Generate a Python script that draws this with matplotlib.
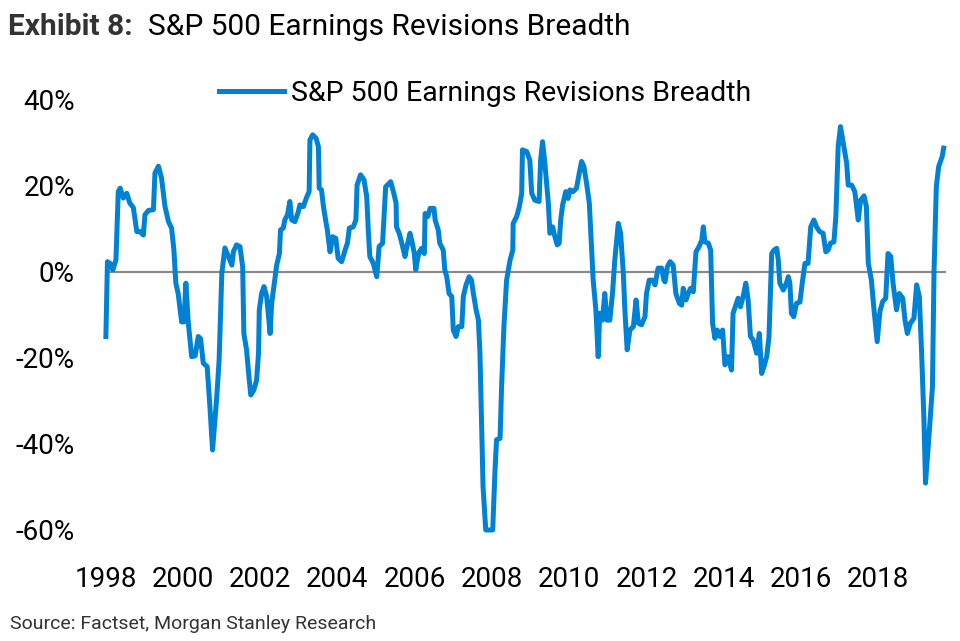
import matplotlib
matplotlib.use("Agg")
import matplotlib.pyplot as plt
from matplotlib.ticker import FuncFormatter

# ======================================
# DATA
# ======================================

years = [
    1998.01, 1998.05, 1998.12, 1998.19, 1998.27, 1998.33, 1998.38, 1998.46, 1998.55, 1998.63,
    1998.72, 1998.81, 1998.89, 1998.98, 1999.02, 1999.11, 1999.24, 1999.28, 1999.37, 1999.45,
    1999.54, 1999.63, 1999.71, 1999.77, 1999.82, 1999.88, 1999.97, 2000.03, 2000.08, 2000.14,
    2000.23, 2000.32, 2000.40, 2000.46, 2000.53, 2000.63, 2000.70, 2000.77, 2000.88, 2000.94,
    2001.01, 2001.09, 2001.18, 2001.27, 2001.31, 2001.39, 2001.48, 2001.55, 2001.58, 2001.65,
    2001.72, 2001.76, 2001.84, 2001.91, 2001.96, 2001.98, 2002.04, 2002.10, 2002.17, 2002.26,
    2002.30, 2002.39, 2002.43, 2002.50, 2002.53, 2002.60, 2002.64, 2002.71, 2002.77, 2002.82,
    2002.90, 2002.99, 2003.03, 2003.12, 2003.21, 2003.27, 2003.29, 2003.36, 2003.45, 2003.51,
    2003.53, 2003.59, 2003.64, 2003.71, 2003.74, 2003.81, 2003.88, 2003.96, 2004.02, 2004.11,
    2004.20, 2004.26, 2004.31, 2004.41, 2004.48, 2004.51, 2004.60, 2004.69, 2004.76, 2004.80,
    2004.84, 2004.93, 2005.02, 2005.08, 2005.17, 2005.25, 2005.38, 2005.46, 2005.52, 2005.53,
    2005.60, 2005.66, 2005.75, 2005.79, 2005.88, 2005.94, 2005.99, 2006.03, 2006.07, 2006.12,
    2006.18, 2006.25, 2006.27, 2006.34, 2006.40, 2006.50, 2006.53, 2006.61, 2006.65, 2006.74,
    2006.78, 2006.83, 2006.89, 2006.96, 2007.00, 2007.07, 2007.13, 2007.22, 2007.26, 2007.33,
    2007.41, 2007.47, 2007.52, 2007.59, 2007.65, 2007.69, 2007.73, 2007.77, 2007.84, 2007.92,
    2008.02, 2008.08, 2008.12, 2008.21, 2008.25, 2008.31, 2008.38, 2008.47, 2008.54, 2008.55,
    2008.64, 2008.71, 2008.77, 2008.79, 2008.90, 2008.98, 2009.03, 2009.11, 2009.22, 2009.26,
    2009.31, 2009.37, 2009.46, 2009.50, 2009.57, 2009.63, 2009.69, 2009.74, 2009.78, 2009.83,
    2009.91, 2009.97, 2010.02, 2010.10, 2010.19, 2010.26, 2010.32, 2010.38, 2010.45, 2010.52,
    2010.58, 2010.62, 2010.69, 2010.75, 2010.79, 2010.86, 2010.92, 2010.98, 2011.05, 2011.12,
    2011.18, 2011.27, 2011.33, 2011.40, 2011.44, 2011.50, 2011.57, 2011.66, 2011.73, 2011.79,
    2011.87, 2011.96, 2012.00, 2012.07, 2012.16, 2012.22, 2012.30, 2012.39, 2012.45, 2012.48,
    2012.54, 2012.61, 2012.69, 2012.76, 2012.85, 2012.91, 2012.95, 2013.02, 2013.08, 2013.14,
    2013.21, 2013.28, 2013.36, 2013.43, 2013.47, 2013.51, 2013.60, 2013.66, 2013.71, 2013.77,
    2013.83, 2013.90, 2013.97, 2014.03, 2014.11, 2014.20, 2014.24, 2014.31, 2014.37, 2014.43,
    2014.50, 2014.57, 2014.63, 2014.69, 2014.76, 2014.85, 2014.92, 2014.98, 2015.04, 2015.11,
    2015.17, 2015.24, 2015.30, 2015.37, 2015.41, 2015.45, 2015.54, 2015.62, 2015.67, 2015.71,
    2015.75, 2015.81, 2015.88, 2015.97, 2016.03, 2016.10, 2016.18, 2016.25, 2016.33, 2016.40,
    2016.48, 2016.57, 2016.64, 2016.70, 2016.76, 2016.85, 2016.90, 2016.96, 2017.02, 2017.11,
    2017.18, 2017.22, 2017.31, 2017.39, 2017.48, 2017.54, 2017.63, 2017.69, 2017.74, 2017.82,
    2017.88, 2017.97, 2018.04, 2018.11, 2018.19, 2018.25, 2018.32, 2018.38, 2018.47, 2018.54,
    2018.63, 2018.69, 2018.75, 2018.83, 2018.92, 2018.99, 2019.06, 2019.12, 2019.18, 2019.22,
    2019.29, 2019.40, 2019.44, 2019.50, 2019.56, 2019.65, 2019.69,
]

breadth = [
    -15.0, 2.4, 2.0, 0.5, 2.8, 18.7, 19.5, 17.2, 18.3, 16.0,
    15.0, 9.4, 9.4, 8.6, 13.3, 14.3, 14.5, 23.0, 24.6, 21.8,
    15.2, 11.7, 10.2, 5.1, -2.6, -5.0, -11.6, -11.6, -2.6, -11.6,
    -19.7, -19.5, -15.0, -15.5, -21.2, -22.0, -31.0, -41.4, -29.0, -20.5,
    -0.3, 5.6, 3.6, 1.6, 4.7, 6.3, 5.9, 1.2, -14.3, -18.1,
    -25.1, -28.6, -27.4, -25.1, -18.9, -8.8, -5.0, -3.4, -5.7, -14.3,
    -7.3, -1.1, 1.6, 4.3, 9.8, 10.2, 12.1, 13.3, 16.4, 12.1,
    11.7, 14.0, 15.6, 15.2, 17.5, 18.7, 30.7, 31.9, 31.1, 29.1,
    19.5, 19.1, 15.2, 11.3, 9.8, 4.7, 8.2, 7.8, 3.2, 2.4,
    5.1, 6.7, 10.2, 10.5, 12.1, 20.2, 22.6, 21.4, 17.5, 9.8,
    3.6, 2.0, -1.1, 5.9, 6.7, 19.8, 21.0, 18.3, 16.0, 10.5,
    9.0, 7.0, 3.6, 5.5, 9.0, 6.7, 4.3, 0.5, 2.8, 4.7,
    5.5, 4.3, 13.6, 12.9, 14.8, 14.8, 12.1, 9.8, 6.7, 5.1,
    0.5, -1.1, -5.0, -5.7, -13.5, -15.0, -12.7, -12.7, -5.7, -3.0,
    -1.1, -1.9, -5.0, -8.8, -11.2, -18.9, -34.4, -49.9, -60.0, -60.0,
    -60.0, -46.0, -39.0, -38.7, -26.7, -12.7, -1.9, 2.8, 5.1, 11.3,
    12.9, 15.2, 18.3, 28.4, 28.0, 26.0, 18.3, 16.7, 16.4, 26.0,
    30.3, 25.3, 16.0, 9.0, 10.5, 8.2, 6.3, 6.7, 12.1, 15.6,
    18.7, 17.1, 19.1, 18.7, 19.5, 23.0, 25.7, 24.5, 20.6, 16.0,
    5.1, -1.9, -8.8, -19.7, -9.6, -11.2, -5.0, -11.2, -11.2, -5.0,
    2.8, 11.3, 9.0, -0.3, -8.8, -18.1, -13.5, -12.7, -6.5, -11.9,
    -12.3, -10.4, -5.0, -1.9, -1.9, -3.0, 0.9, 0.9, -1.9, -2.3,
    1.2, 2.4, 1.6, -5.0, -7.3, -7.7, -3.8, -6.5, -5.0, -3.8,
    -4.6, 4.7, 5.9, 7.4, 10.5, 7.0, 6.7, 5.1, -11.9, -15.4,
    -13.5, -15.0, -13.5, -21.6, -19.7, -22.8, -9.6, -7.7, -6.1, -8.1,
    -5.7, -2.6, -6.5, -15.0, -15.8, -18.9, -14.3, -23.6, -22.0, -19.7,
    -15.0, 4.3, 5.1, 5.5, 2.8, -2.6, -4.2, -2.6, -1.1, -2.6,
    -9.6, -10.4, -7.3, -7.0, -2.6, 2.0, 2.0, 10.5, 12.1, 10.5,
    9.4, 9.0, 4.7, 5.1, 6.7, 7.0, 12.9, 29.1, 33.8, 29.1,
    25.3, 20.2, 20.2, 18.7, 12.1, 16.7, 17.7, 15.2, 2.0, -1.9,
    -8.1, -16.2, -9.2, -6.9, -6.1, 4.3, 3.6, -2.6, -8.8, -5.0,
    -6.1, -11.2, -14.3, -11.9, -10.8, -3.0, -5.7, -18.9, -34.4, -49.1,
    -40.6, -26.7, 0.0, 19.8, 24.5, 26.8, 28.8,
]

year_ticks = [1998, 2000, 2002, 2004, 2006, 2008, 2010, 2012, 2014, 2016, 2018]
pct_ticks = [-60, -40, -20, 0, 20, 40]

# ======================================
# STYLE
# ======================================

plt.rcParams['font.family'] = ['Roboto', 'DejaVu Sans']
BLUE = '#0082D4'

fig = plt.figure(figsize=(9.6, 6.41), dpi=100)
ax = fig.add_axes([0.1099, 0.1732, 0.8755, 0.6708])

ax.axhline(0, color='#8a8a8a', lw=1.6, zorder=1)
ax.plot(years, breadth, color=BLUE, lw=3.6, zorder=2, clip_on=False,
        solid_joinstyle='round', label='S&P 500 Earnings Revisions Breadth')

ax.set_xlim(1998.0, 2019.75)
ax.set_ylim(-60, 40)
ax.set_xticks(year_ticks)
ax.set_yticks(pct_ticks)
ax.yaxis.set_major_formatter(FuncFormatter(lambda v, p: '%d%%' % v))

for s in ax.spines.values():
    s.set_visible(False)
ax.tick_params(axis='both', length=0, labelsize=20, colors='black')
ax.tick_params(axis='y', pad=22)
ax.tick_params(axis='x', pad=26)

ax.legend(loc='center', bbox_to_anchor=(0.4515, 1.016), frameon=False,
          fontsize=20.5, handlelength=2.3, handletextpad=0.25,
          borderpad=0, borderaxespad=0)

# ======================================
# TITLE + SOURCE
# ======================================

t1 = fig.text(8 / 960, 1 - 27 / 641, 'Exhibit 8:', fontsize=21.5, fontweight='bold',
              color='#333333', ha='left', va='center')
ax.annotate('S&P 500 Earnings Revisions Breadth', xy=(1, 0.5), xycoords=t1,
            xytext=(11, 0), textcoords='offset points', fontsize=21.5,
            color='black', ha='left', va='center', annotation_clip=False)

fig.text(10 / 960, 1 - 624 / 641, 'Source: Factset, Morgan Stanley Research',
         fontsize=14, color='#333333', ha='left', va='center')

fig.savefig('out.png', dpi=100)
